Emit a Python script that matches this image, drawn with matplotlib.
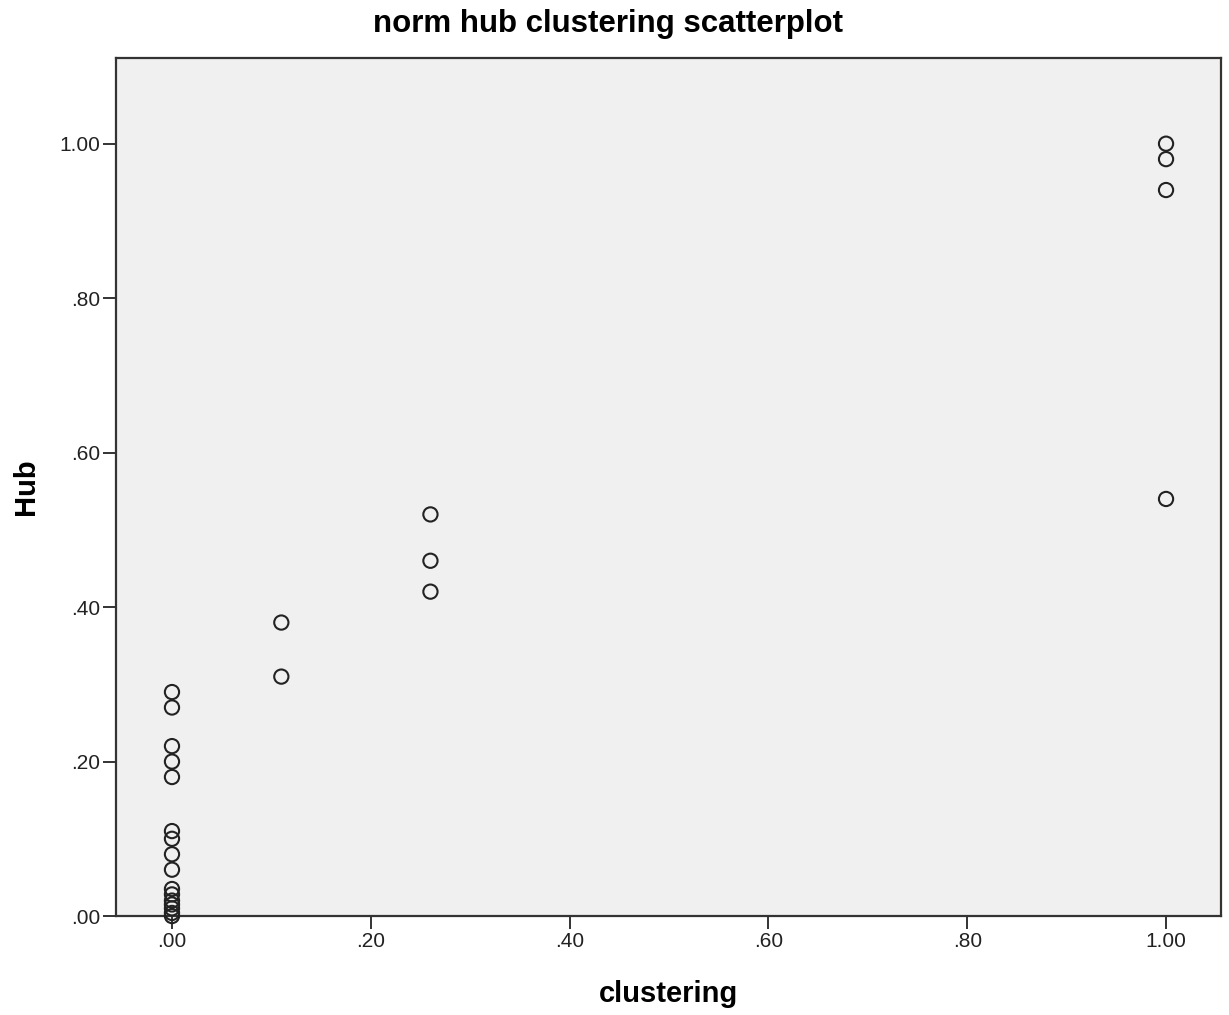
import matplotlib
matplotlib.use("Agg")
import matplotlib.pyplot as plt
from matplotlib.ticker import FuncFormatter

plt.rcParams["font.family"] = ["Liberation Sans", "DejaVu Sans"]

# Normalised clustering coefficient vs hub score per node
clustering = [0.0] * 16 + [0.11, 0.11, 0.26, 0.26, 0.26, 1.0, 1.0, 1.0, 1.0]
hub = [0.29, 0.27, 0.22, 0.20, 0.18, 0.11, 0.10, 0.08, 0.06,
       0.035, 0.028, 0.02, 0.015, 0.01, 0.004, 0.0,
       0.38, 0.31, 0.52, 0.46, 0.42, 1.0, 0.98, 0.94, 0.54]

x_ticks = [0.0, 0.2, 0.4, 0.6, 0.8, 1.0]
y_ticks = [0.0, 0.2, 0.4, 0.6, 0.8, 1.0]


def spss_fmt(v, _pos=None):
    s = f"{v:.2f}"
    return s[1:] if s.startswith("0") else s


fig = plt.figure(figsize=(12.29, 10.15), dpi=100)
ax = fig.add_axes([0.0944, 0.0975, 0.8991, 0.8454])
ax.set_facecolor("#f0f0f0")

ax.scatter(clustering, hub, s=105, facecolors="none", edgecolors="#222222",
           linewidths=1.5, zorder=3, clip_on=False)

ax.set_xlim(-0.0563, 1.0553)
ax.set_ylim(0.0, 1.111)
ax.set_xticks(x_ticks)
ax.set_yticks(y_ticks)
ax.xaxis.set_major_formatter(FuncFormatter(spss_fmt))
ax.yaxis.set_major_formatter(FuncFormatter(spss_fmt))
ax.tick_params(direction="out", length=9.5, width=1.4, color="#333333",
               labelsize=15, labelcolor="#222222", pad=2)

for sp in ax.spines.values():
    sp.set_linewidth(1.6)
    sp.set_color("#333333")

ax.set_xlabel("clustering", fontsize=21, fontweight="bold", labelpad=21)
ax.set_ylabel("Hub", fontsize=21, fontweight="bold", labelpad=14)
fig.text(608 / 1229, 1 - 24 / 1015, "norm hub clustering scatterplot",
         ha="center", va="center", fontsize=22.5, fontweight="bold")

fig.savefig("out.png", dpi=100)
